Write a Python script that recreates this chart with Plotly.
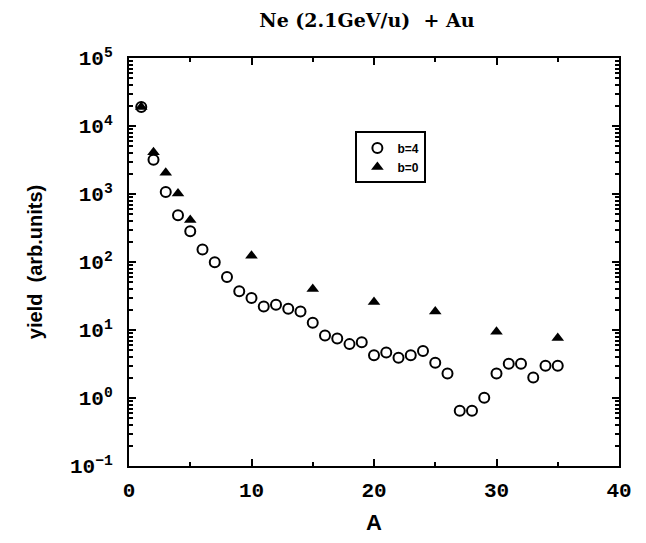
import plotly.graph_objects as go

A_b4 = list(range(1, 36))
y_b4 = [19000, 3200, 1070, 487, 284, 153, 99, 60, 37, 29.5,
        22.2, 23.5, 20.5, 18.7, 12.8, 8.3, 7.5, 6.2, 6.6, 4.25,
        4.66, 3.9, 4.25, 4.9, 3.3, 2.3, 0.65, 0.65, 1.01, 2.3,
        3.2, 3.2, 2.0, 2.97, 2.97]
A_b0 = [1, 2, 3, 4, 5, 10, 15, 20, 25, 30, 35]
y_b0 = [19000, 4100, 2050, 1020, 416, 124, 40, 25.7, 18.7, 9.4, 7.6]

ytick_vals = [1e-1, 1, 10, 100, 1e3, 1e4, 1e5]
ytick_text = ["10<sup>−1</sup>", "10<sup>0</sup>", "10<sup>1</sup>", "10<sup>2</sup>",
              "10<sup>3</sup>", "10<sup>4</sup>", "10<sup>5</sup>"]
xtick_vals = [0, 10, 20, 30, 40]

fig = go.Figure()
fig.add_trace(go.Scatter(
    x=A_b4, y=y_b4, mode="markers", name="b=4",
    marker=dict(symbol="circle-open", size=10, color="black", line=dict(width=2))))
fig.add_trace(go.Scatter(
    x=A_b0, y=y_b0, mode="markers", name="b=0",
    marker=dict(symbol="triangle-up", size=11, color="black")))

tickfont = dict(family="Liberation Mono", size=21, color="black", weight="bold")

fig.update_layout(
    width=646, height=543,
    margin=dict(l=129, r=27, t=58, b=75),
    paper_bgcolor="white", plot_bgcolor="white",
    title=dict(text="Ne (2.1GeV/u)  + Au", x=0.568, xanchor="center", y=0.962, yanchor="middle",
               font=dict(family="DejaVu Serif", size=19, color="black", weight="bold")),
    showlegend=True,
    legend=dict(x=0.462, y=0.82, xanchor="left", yanchor="top",
                bordercolor="black", borderwidth=2, bgcolor="white",
                font=dict(family="Liberation Sans", size=12, color="black", weight="bold"),
                itemwidth=30, tracegroupgap=0),
    xaxis=dict(range=[0, 40], tickvals=xtick_vals, ticks="inside", ticklen=7,
               tickwidth=1.5, tickcolor="black", showline=True, linecolor="black",
               linewidth=2, mirror="ticks", showgrid=False, zeroline=False,
               tickfont=tickfont, ticklabelstandoff=4,
               minor=dict(ticks="inside", ticklen=4, tickcolor="black", dtick=5),
               title=dict(text="A", standoff=12,
                          font=dict(family="Liberation Sans", size=22, color="black", weight="bold"))),
    yaxis=dict(type="log", range=[-1, 5], tickvals=ytick_vals, ticktext=ytick_text,
               ticks="inside", ticklen=7, tickwidth=1.5, tickcolor="black",
               showline=True, linecolor="black", linewidth=2, mirror="ticks",
               showgrid=False, zeroline=False, tickfont=tickfont, ticklabelstandoff=10,
               minor=dict(ticks="inside", ticklen=4, tickcolor="black", dtick="D1"),
               title=dict(text="yield  (arb.units)", standoff=22,
                          font=dict(family="Liberation Sans", size=20, color="black", weight="bold"))),
)

fig.write_html("out.html")
